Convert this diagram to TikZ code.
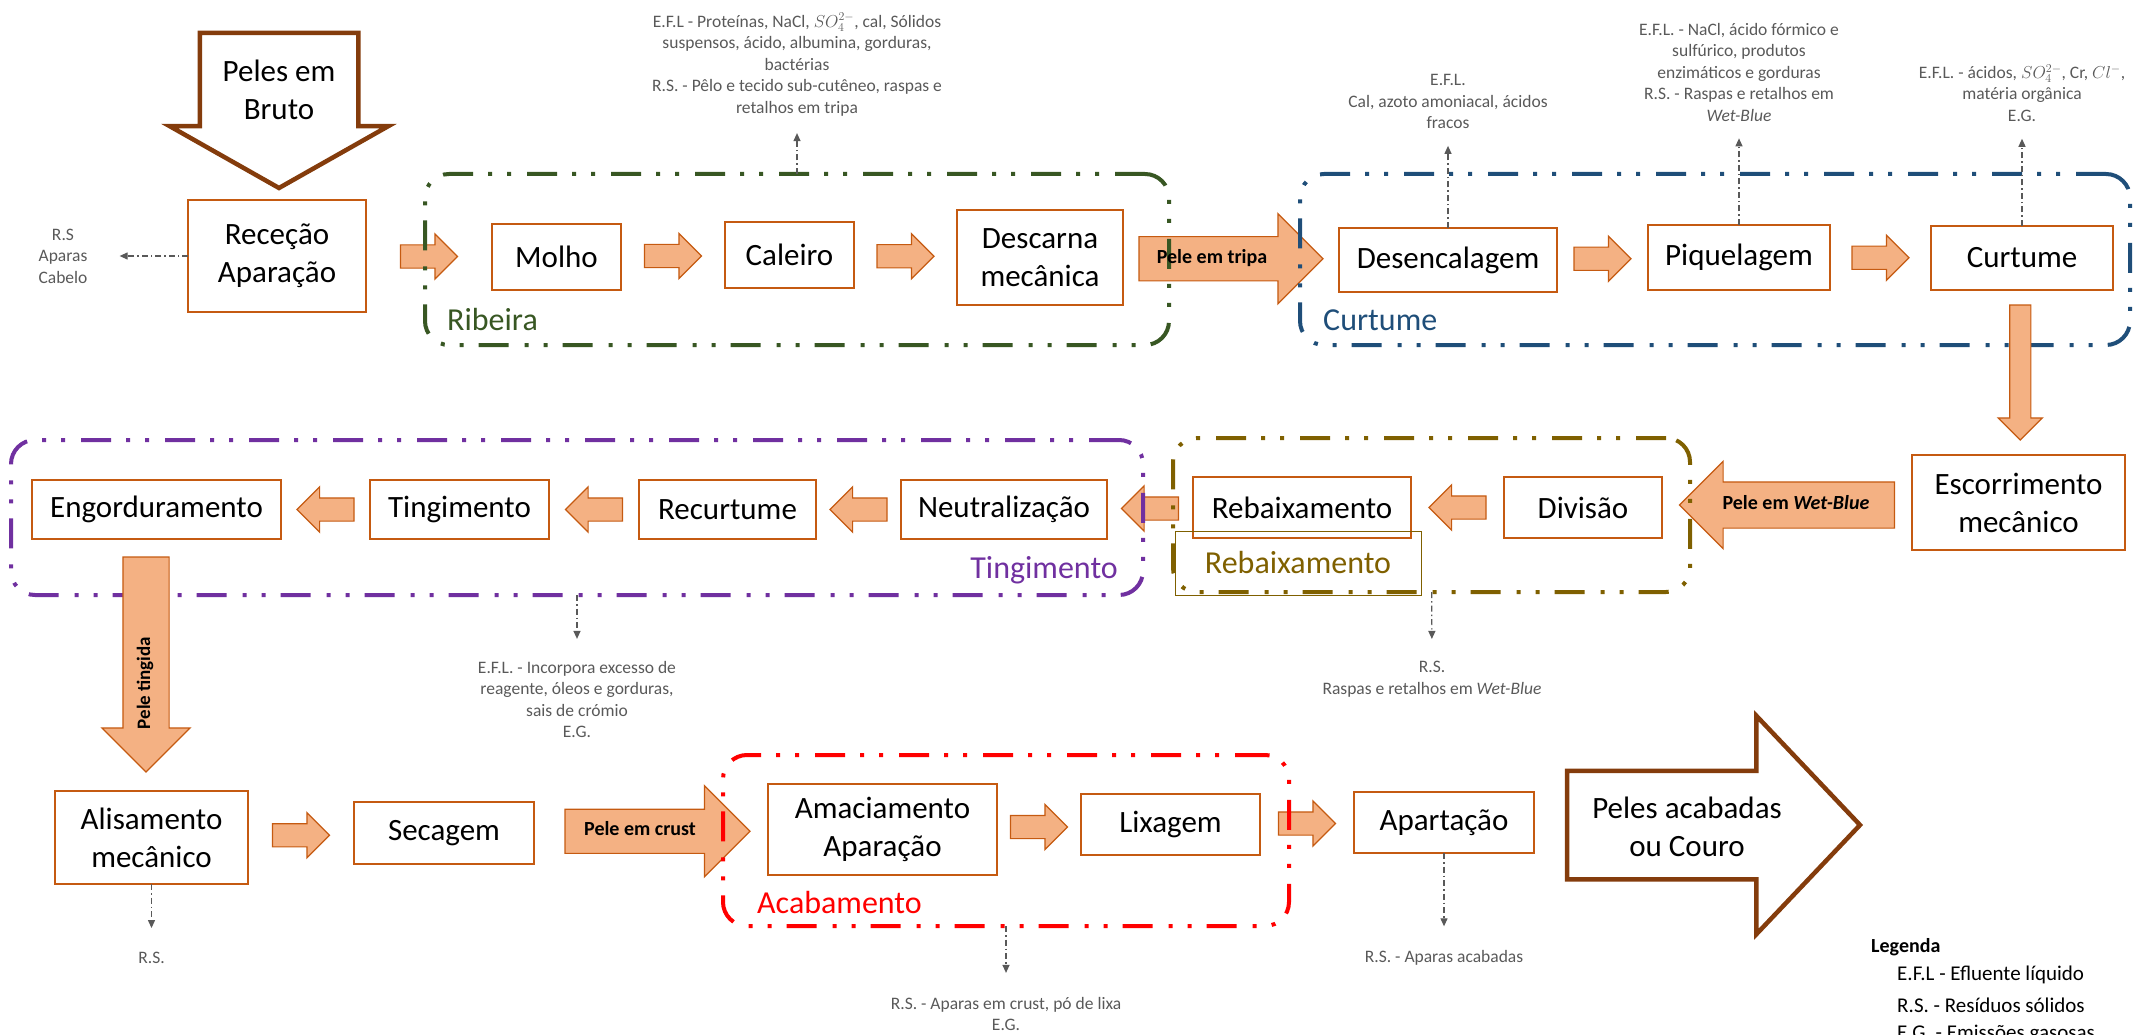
\documentclass[tikz,border=0pt]{standalone}
\usepackage{fontspec}
\setmainfont{Carlito}
\usepackage{tikz}
\usetikzlibrary{arrows.meta,positioning,shapes,calc}

\definecolor{boxc}{HTML}{C55A11}
\definecolor{arrf}{HTML}{F4B183}
\definecolor{brownc}{HTML}{843C0C}
\definecolor{ribc}{HTML}{385723}
\definecolor{curc}{HTML}{1F4E79}
\definecolor{tinc}{HTML}{7030A0}
\definecolor{rebc}{HTML}{7F6000}
\definecolor{acac}{HTML}{FF0000}
\definecolor{notec}{HTML}{595959}

\begin{document}
\begin{tikzpicture}[
    x=1pt, y=-1pt,
    box/.style={draw=boxc, line width=1.3pt, fill=white, align=center, inner sep=0pt, outer sep=0pt, font=\fontsize{31}{38}\selectfont},
    blk/.style={single arrow, draw=boxc, fill=arrf, line width=1.2pt, inner xsep=0pt, inner ysep=11pt, outer sep=0pt, minimum height=57pt, minimum width=44pt, single arrow head extend=11pt, anchor=tail},
    bigarr/.style={single arrow, draw=brownc, line width=4.5pt, fill=white, inner xsep=0pt, outer sep=0pt, anchor=tail},
    grp/.style={rounded corners=24pt, line width=4pt, dash pattern=on 30pt off 16pt on 4pt off 15pt on 4pt off 15pt, inner sep=0pt, outer sep=0pt},
    grplbl/.style={font=\fontsize{32}{38}\selectfont, inner sep=0pt},
    arrlbl/.style={font=\fontsize{20}{24}\selectfont\bfseries, inner sep=0pt},
    note/.style={text=notec, align=center, font=\fontsize{17.5}{21.5}\selectfont, inner sep=2pt},
    ann/.style={draw=notec, line width=1.2pt, dash pattern=on 6pt off 3pt on 1.5pt off 3pt, ->, shorten >=15pt},
    >={Triangle[length=8pt, width=7pt]},
  ]
    \useasboundingbox (0,0) rectangle (2150,1035);

    % Entrada
    \node[bigarr, shape border rotate=270, inner xsep=77pt, inner ysep=0pt, minimum height=155pt, minimum width=214pt, single arrow head extend=30pt, single arrow tip angle=121] (bruto) at (279,33) {};
    \node[font=\fontsize{31}{38}\selectfont, align=center] (tBruto) at (279,90) {Peles em\\Bruto};

    % Linha 1
    \node[box, minimum width=178pt, minimum height=112pt] (recep) at (277,256) {Receção\\Aparação};
    \node[box, minimum width=129pt, minimum height=66pt] (molho) at (556.5,257) {Molho};
    \node[box, minimum width=129pt, minimum height=66pt] (caleiro) at (789.5,255) {Caleiro};
    \node[box, minimum width=166pt, minimum height=95pt] (descarna) at (1040,257.5) {Descarna\\mecânica};
    \node[box, minimum width=218pt, minimum height=64pt] (desenc) at (1448,260) {Desencalagem};
    \node[box, minimum width=182pt, minimum height=65pt] (piquel) at (1739,257.5) {Piquelagem};
    \node[box, minimum width=182pt, minimum height=64pt] (curtume) at (2022,258) {Curtume};

    % Linha 2
    \node[box, minimum width=213pt, minimum height=95pt] (escorr) at (2018.5,502.5) {Escorrimento\\mecânico};
    \node[box, minimum width=158pt, minimum height=61pt] (divisao) at (1583,507.5) {Divisão};
    \node[box, minimum width=218pt, minimum height=61pt] (rebaix) at (1302,507.5) {Rebaixamento};
    \node[box, minimum width=206pt, minimum height=59pt] (neutral) at (1004,509.5) {Neutralização};
    \node[box, minimum width=177pt, minimum height=59pt] (recurt) at (727.5,509.5) {Recurtume};
    \node[box, minimum width=179pt, minimum height=59pt] (tingim) at (459.5,509.5) {Tingimento};
    \node[box, minimum width=249pt, minimum height=59pt] (engord) at (156.5,509.5) {Engorduramento};

    % Linha 3
    \node[box, minimum width=193pt, minimum height=93pt] (alisam) at (151.5,837.5) {Alisamento\\mecânico};
    \node[box, minimum width=180pt, minimum height=62pt] (secagem) at (444,833) {Secagem};
    \node[box, minimum width=229pt, minimum height=91pt] (amac) at (882.5,829.5) {Amaciamento\\Aparação};
    \node[box, minimum width=179pt, minimum height=61pt] (lixagem) at (1170.5,824.5) {Lixagem};
    \node[box, minimum width=180pt, minimum height=61pt] (apart) at (1444,822.5) {Apartação};

    % Saida
    \node[bigarr, inner ysep=52pt, minimum height=293pt, minimum width=214pt, single arrow head extend=55pt, single arrow tip angle=93] (acabadas) at (1567,825) {};
    \node[font=\fontsize{31}{38}\selectfont, align=center] (tAcab) at (1687,827) {Peles acabadas\\ou Couro};

    % Setas entre etapas
    \node[blk] (a1) at ($(recep.east)!0.5!(molho.west)-(28.5,0)$) {};
    \node[blk] (a2) at ($(molho.east)!0.5!(caleiro.west)-(28.5,0)$) {};
    \node[blk] (a3) at ($(caleiro.east)!0.5!(descarna.west)-(28.5,0)$) {};
    \node[blk, inner ysep=21.5pt, minimum height=184pt, minimum width=89pt, single arrow head extend=23pt] (tripa) at ($(descarna.east)!0.5!(desenc.west)-(92,0)$) {};
    \node[blk] (a4) at ($(desenc.east)!0.5!(piquel.west)-(28.5,0)$) {};
    \node[blk] (a5) at ($(piquel.east)!0.5!(curtume.west)-(28.5,0)$) {};
    \node[blk, shape border rotate=180, inner ysep=22.5pt, minimum height=215pt, minimum width=86pt, single arrow head extend=20.5pt] (wetblue) at ($(escorr.west)!0.5!(divisao.east)+(107.5,0)$) {};
    \node[blk, shape border rotate=180] (a6) at ($(divisao.west)!0.5!(rebaix.east)+(28.5,0)$) {};
    \node[blk, shape border rotate=180] (a7) at ($(rebaix.west)!0.5!(neutral.east)+(28.5,0)$) {};
    \node[blk, shape border rotate=180] (a8) at ($(neutral.west)!0.5!(recurt.east)+(28.5,0)$) {};
    \node[blk, shape border rotate=180] (a9) at ($(recurt.west)!0.5!(tingim.east)+(28.5,0)$) {};
    \node[blk, shape border rotate=180] (a10) at ($(tingim.west)!0.5!(engord.east)+(28.5,0)$) {};
    \node[blk] (a11) at ($(alisam.east)!0.5!(secagem.west)-(28.5,0)$) {};
    \node[blk, inner ysep=21.5pt, minimum height=185pt, minimum width=90pt, single arrow head extend=23.5pt] (crust) at ($(secagem.east)!0.5!(amac.west)-(86,0)$) {};
    \node[blk] (a12) at ($(amac.east)!0.5!(lixagem.west)-(28.5,0)$) {};
    \node[blk] (a13) at ($(lixagem.east)!0.5!(apart.west)-(28.5,0)$) {};

    % Grupos
    \node[grp, draw=ribc, minimum width=744pt, minimum height=171pt] (gRib) at (797,259.5) {};
    \node[grp, draw=curc, minimum width=830pt, minimum height=171pt] (gCurt) at (1715,259.5) {};
    \node[grp, draw=tinc, minimum width=1132pt, minimum height=155pt] (gTing) at (577,517.5) {};
    \node[grp, draw=rebc, minimum width=517pt, minimum height=154pt] (gRebx) at (1431.5,515) {};
    \node[grp, draw=acac, minimum width=566pt, minimum height=171pt] (gAcab) at (1006,840.5) {};

    \node[grplbl, text=ribc, anchor=west] (lRib) at (447,320) {Ribeira};
    \node[grplbl, text=curc, anchor=west] (lCurt) at (1323,320) {Curtume};
    \node[grplbl, text=tinc, anchor=east] (lTing) at (1118,570) {Tingimento};
    \node[grplbl, draw=rebc, line width=0.8pt, text=rebc, minimum width=246pt, minimum height=64pt] (lRebx) at (1298,563) {Rebaixamento};
    \node[grplbl, text=acac, anchor=west] (lAcab) at (757,903) {Acabamento};

    % Setas verticais
    \node[blk, shape border rotate=270, inner xsep=10pt, inner ysep=0pt, minimum height=135pt, minimum width=43pt, single arrow head extend=11.5pt] (a14) at ($(curtume.south)!0.5!(escorr.north)-(0,67.5)$) {};
    \node[blk, shape border rotate=270, inner xsep=22.5pt, inner ysep=0pt, minimum height=215pt, minimum width=87pt, single arrow head extend=21pt] (tingida) at (146,557) {};

    % Textos das setas
    \node[arrlbl] (tTripa) at (1212,258) {Pele em tripa};
    \node[arrlbl] (tWet) at (1796,503) {Pele em \textit{Wet-Blue}};
    \node[arrlbl] (tCrust) at (640,829) {Pele em crust};
    \node[arrlbl, font=\fontsize{19}{24}\selectfont\bfseries, rotate=90] (tTingida) at (145,683) {Pele tingida};

    % Efluentes e residuos
    \node[note] (n1) at (797,64.5) {E.F.L - Proteínas, NaCl, $SO_4^{2-}$, cal, Sólidos\\suspensos, ácido, albumina, gorduras,\\bactérias\\R.S. - Pêlo e tecido sub-cutêneo, raspas e\\retalhos em tripa};
    \node[note] (n2) at (1448,101.5) {E.F.L.\\Cal, azoto amoniacal, ácidos\\fracos};
    \node[note] (n3) at (1739,72) {E.F.L. - NaCl, ácido fórmico e\\sulfúrico, produtos\\enzimáticos e gorduras\\R.S. - Raspas e retalhos em\\\textit{Wet-Blue}};
    \node[note] (n4) at (2022,93) {E.F.L. - ácidos, $SO_4^{2-}$, Cr, $Cl^{-}$,\\matéria orgânica\\E.G.};
    \node[note] (n5) at (63,256) {R.S\\Aparas\\Cabelo};
    \node[note] (n6) at (577,699.5) {E.F.L. - Incorpora excesso de\\reagente, óleos e gorduras,\\sais de crómio\\E.G.};
    \node[note] (n7) at (1432,679) {R.S.\\Raspas e retalhos em \textit{Wet-Blue}};
    \node[note] (n8) at (151.5,958) {R.S.};
    \node[note] (n9) at (1006,1014) {R.S. - Aparas em crust, pó de lixa\\E.G.};
    \node[note] (n10) at (1444,958) {R.S. - Aparas acabadas};

    \draw[ann] (gRib) -- (n1);
    \draw[ann] (desenc) -- (n2);
    \draw[ann] (piquel) -- (n3);
    \draw[ann] (curtume) -- (n4);
    \draw[ann, shorten >=30pt] (recep) -- (n5);
    \draw[ann, shorten >=20pt] (gTing) -- (n6);
    \draw[ann, shorten >=20pt] (gRebx) -- (n7);
    \draw[ann, shorten >=22pt] (alisam) -- (n8);
    \draw[ann, shorten >=22pt] (gAcab) -- (n9);
    \draw[ann, shorten >=22pt] (apart) -- (n10);

    % Legenda
    \node[anchor=west, font=\fontsize{20}{24}\selectfont\bfseries, inner sep=0pt] (leg) at (1871,947) {Legenda};
    \node[anchor=west, font=\fontsize{21}{24}\selectfont, inner sep=0pt] (leg1) at (1897,975) {E.F.L - Efluente líquido};
    \node[anchor=west, font=\fontsize{21}{24}\selectfont, inner sep=0pt] (leg2) at (1897,1005) {R.S. - Resíduos sólidos};
    \node[anchor=west, font=\fontsize{21}{24}\selectfont, inner sep=0pt] (leg3) at (1897,1034) {E.G. - Emissões gasosas};
  \end{tikzpicture}
\end{document}
